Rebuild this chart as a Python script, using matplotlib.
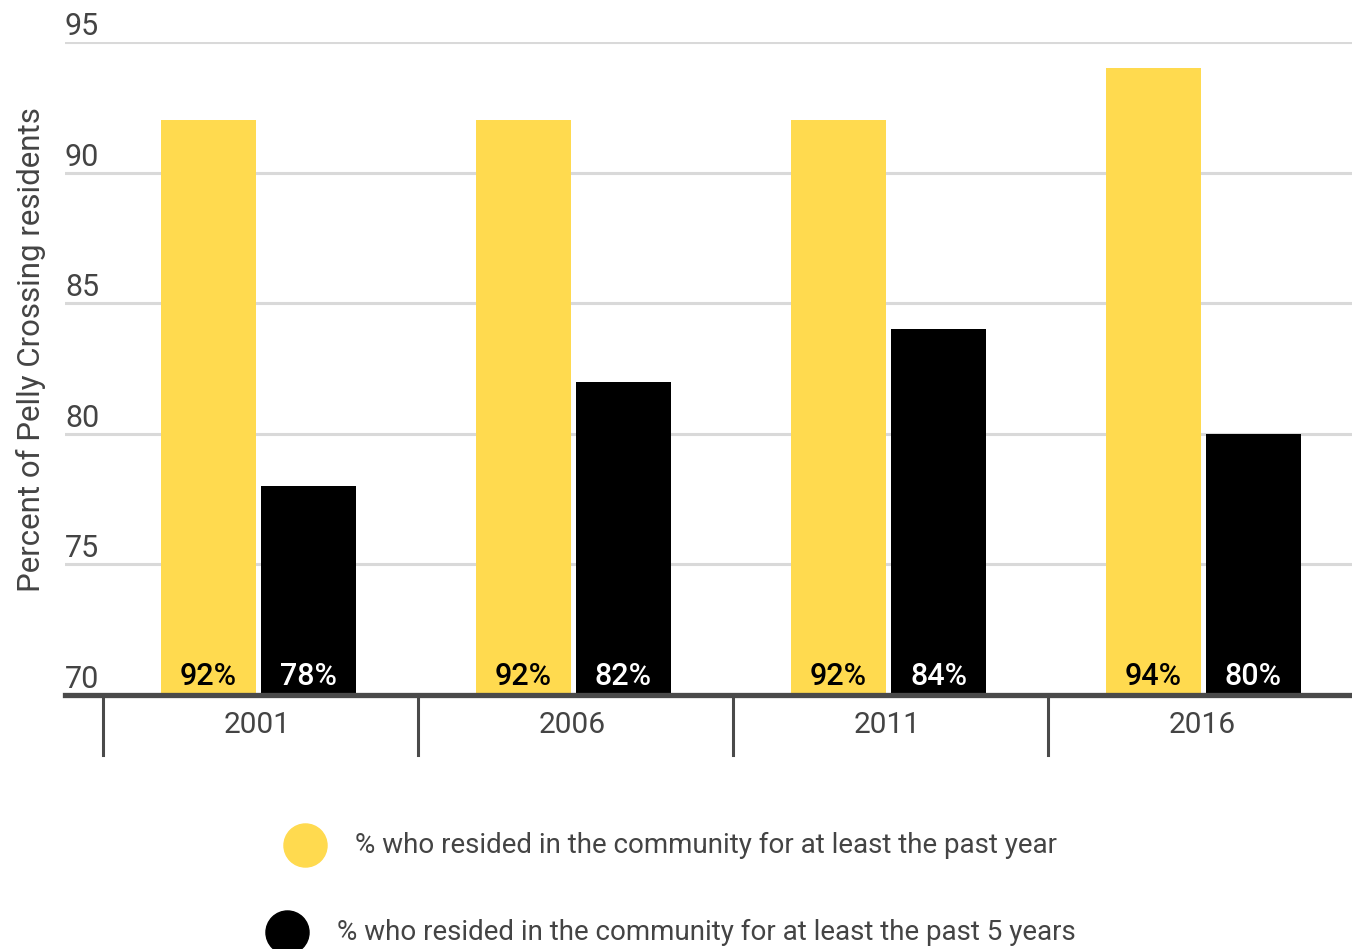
import matplotlib.pyplot as plt
import matplotlib.transforms as mtrans
from matplotlib.lines import Line2D
import numpy as np

plt.rcParams['font.family'] = ['Roboto', 'DejaVu Sans']

years = ['2001', '2006', '2011', '2016']
past_year = [92, 92, 92, 94]
past_5_years = [78, 82, 84, 80]
series_names = ['% who resided in the community for at least the past year',
                '% who resided in the community for at least the past 5 years']
yticks = [70, 75, 80, 85, 90, 95]

YELLOW = '#FFDA4F'
BLACK = '#000000'
GREY = '#444444'

W, H = 1352, 949
fig = plt.figure(figsize=(W / 100, H / 100), dpi=100)
ax = fig.add_axes([65 / W, 254 / H, 1287 / W, 653 / H])

x = np.arange(len(years)) - 2 / 315
bw = 95 / 315
off = 50 / 315
b1 = ax.bar(x - off, past_year, width=bw, color=YELLOW, zorder=3)
b2 = ax.bar(x + off, past_5_years, width=bw, color=BLACK, zorder=3)

for rect, v in zip(b1, past_year):
    ax.text(rect.get_x() + rect.get_width() / 2, 70.72, f'{v}%', ha='center', va='center',
            fontsize=22, fontweight='medium', color='black', zorder=4)
for rect, v in zip(b2, past_5_years):
    ax.text(rect.get_x() + rect.get_width() / 2, 70.72, f'{v}%', ha='center', va='center',
            fontsize=22, fontweight='medium', color='white', zorder=4)

ax.set_ylim(70, 95)
ax.set_xlim(-195.5 / 315, 3 + 146.5 / 315)
ax.set_yticks(yticks)
ax.yaxis.grid(True, color='#D9D9D9', linewidth=2.2, zorder=0)
ax.tick_params(axis='y', length=0, labelsize=22, labelcolor=GREY, pad=0)
for lab in ax.get_yticklabels():
    lab.set_horizontalalignment('left')
    lab.set_verticalalignment('baseline')
    lab.set_x(0)
    lab.set_transform(ax.get_yaxis_transform() + mtrans.ScaledTranslation(0, 7 / 100, fig.dpi_scale_trans))

ax.set_xticks([])
for s in ['top', 'right', 'left']:
    ax.spines[s].set_visible(False)
ax.spines['bottom'].set_color('#4a4a4a')
ax.spines['bottom'].set_linewidth(3.8)
ax.spines['bottom'].set_zorder(5)

# category separators and labels below the axis
for i, yr in enumerate(years):
    ax.plot([i - 0.5, i - 0.5], [70, 67.7], color='#4a4a4a', lw=2.2, clip_on=False, zorder=5)
    ax.text(i - 3 / 315, 68.85, yr, ha='center', va='center', fontsize=21.5, color=GREY)

fig.text(31 / W, 1 - 350 / H, 'Percent of Pelly Crossing residents', rotation=90,
         ha='center', va='center', fontsize=22.5, color=GREY)

# legend rows
rows = [(305, 845, 355, YELLOW, series_names[0]), (287, 932, 337, BLACK, series_names[1])]
for cx, cy, tx, col, name in rows:
    fig.add_artist(Line2D([cx / W], [1 - cy / H], marker='o', markersize=31, color=col,
                          linestyle='none', transform=fig.transFigure))
    fig.text(tx / W, 1 - cy / H, name, ha='left', va='center', fontsize=20, color=GREY)

fig.savefig('out.png', dpi=100)
